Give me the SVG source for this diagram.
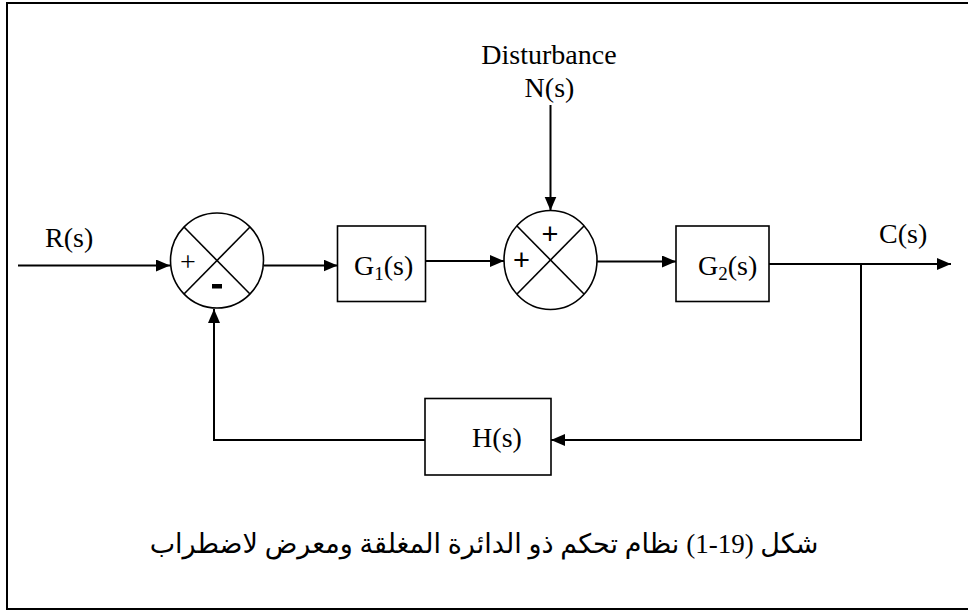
<svg xmlns="http://www.w3.org/2000/svg" width="968" height="610" viewBox="0 0 968 610">
<style>
.line{fill:none;stroke:#000;stroke-width:2}
.box{fill:#fff;stroke:#000;stroke-width:1.6}
.sum{fill:#fff;stroke:#000;stroke-width:1.6}
.cross{stroke:#000;stroke-width:1.6}
.lbl{font-family:"Liberation Serif","Times New Roman",serif;font-size:28px;fill:#000}
.sub{font-size:19px}
.sgn{font-family:"Liberation Sans",Arial,sans-serif;fill:#000}
.cap{font-family:"Liberation Serif","DejaVu Sans",serif;font-size:27px;fill:#000}
</style>
<defs>
<marker id="arr" markerUnits="userSpaceOnUse" markerWidth="15" markerHeight="13" refX="14" refY="6" orient="auto">
<path d="M0,0 L14,6 L0,12 z" fill="#000"/>
</marker>
</defs>
<rect x="7" y="3" width="980" height="606" fill="#fff" stroke="#000" stroke-width="2"/>

<g id="connectors">
<line class="line" x1="18" y1="265.5" x2="170" y2="265.5" marker-end="url(#arr)"/>
<line class="line" x1="263.5" y1="265.5" x2="337.5" y2="265.5" marker-end="url(#arr)"/>
<line class="line" x1="425.5" y1="261" x2="504" y2="261" marker-end="url(#arr)"/>
<line class="line" x1="550.5" y1="105" x2="550.5" y2="210.5" marker-end="url(#arr)"/>
<line class="line" x1="597" y1="261.5" x2="676" y2="261.5" marker-end="url(#arr)"/>
<line class="line" x1="769" y1="264" x2="951" y2="264" marker-end="url(#arr)"/>
<polyline class="line" points="861,264 861,440 551,440" marker-end="url(#arr)"/>
<polyline class="line" points="425,440 214,440 214,309" marker-end="url(#arr)"/>
</g>

<g id="sum1">
<ellipse class="sum" cx="217" cy="260.5" rx="46.5" ry="47.5"/>
<line class="cross" x1="184" y1="227" x2="250" y2="294"/>
<line class="cross" x1="250" y1="227" x2="184" y2="294"/>
<text class="lbl" x="188" y="271" text-anchor="middle" font-size="25">+</text>
<rect x="212" y="284" width="10" height="4.5" fill="#000"/>
</g>

<g id="sum2">
<ellipse class="sum" cx="550.5" cy="260" rx="46.5" ry="49.5"/>
<line class="cross" x1="517" y1="226" x2="584" y2="294"/>
<line class="cross" x1="584" y1="226" x2="517" y2="294"/>
<text class="sgn" x="550" y="244" text-anchor="middle" font-size="29">+</text>
<text class="sgn" x="521.5" y="270" text-anchor="middle" font-size="29">+</text>
</g>

<g id="G1">
<rect class="box" x="337.5" y="226" width="88" height="75.5"/>
<text class="lbl" x="354" y="275">G<tspan class="sub" dy="5">1</tspan><tspan dy="-5">(s)</tspan></text>
</g>

<g id="G2">
<rect class="box" x="676" y="226" width="93" height="75.5"/>
<text class="lbl" x="698" y="275">G<tspan class="sub" dy="5">2</tspan><tspan dy="-5">(s)</tspan></text>
</g>

<g id="H">
<rect class="box" x="425" y="398.5" width="126" height="76.5"/>
<text class="lbl" x="497" y="447" text-anchor="middle">H(s)</text>
</g>

<g id="labels">
<text class="lbl" x="45" y="247">R(s)</text>
<text class="lbl" x="879" y="243">C(s)</text>
<text class="lbl" x="549" y="64" text-anchor="middle">Disturbance</text>
<text class="lbl" x="549.5" y="97" text-anchor="middle">N(s)</text>
</g>

<g id="caption">
<text class="cap" x="484" y="553" text-anchor="middle" direction="rtl">شكل (19-1) نظام تحكم ذو الدائرة المغلقة ومعرض لاضطراب</text>
</g>
</svg>
